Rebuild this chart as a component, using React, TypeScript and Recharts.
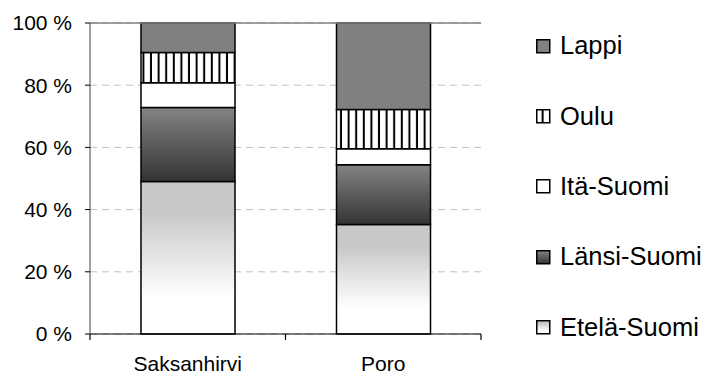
import { BarChart, Bar, XAxis, YAxis, CartesianGrid, Legend, ReferenceLine } from "recharts"

// categories and series values (percent shares)
const categories = ["Saksanhirvi", "Poro"]
const etelaSuomi = [49.0, 35.2]
const lansiSuomi = [23.8, 19.2]
const itaSuomi = [8.0, 5.2]
const oulu = [9.7, 12.6]
const lappi = [9.5, 27.8]
const yTicks = [0, 20, 40, 60, 80, 100]

// series in stacking order, bottom first
const seriesNames = ["Etelä-Suomi", "Länsi-Suomi", "Itä-Suomi", "Oulu", "Lappi"]
const seriesKeys = ["etela", "lansi", "ita", "oulu", "lappi"]
const seriesFills = ["url(#gEtela)", "url(#gLansi)", "#ffffff", "url(#pOulu)", "#808080"]

const data = categories.map((name, i) => ({
    name,
    etela: etelaSuomi[i],
    lansi: lansiSuomi[i],
    ita: itaSuomi[i],
    oulu: oulu[i],
    lappi: lappi[i],
}))

const FONT = "'Liberation Sans', Arial, sans-serif"

// x tick: label plus tick marks at the category edges
function CategoryTick(props: any) {
    const { x, y, payload, index, visibleTicksCount } = props
    const half = payload?.offset || 97.75
    const y0 = y - 8
    return (
        <g>
            <line x1={x - half} y1={y0} x2={x - half} y2={y0 + 6} stroke="#000" strokeWidth={1.2} />
            {index === visibleTicksCount - 1 && (
                <line x1={x + half} y1={y0} x2={x + half} y2={y0 + 6} stroke="#000" strokeWidth={1.2} />
            )}
            <text x={x} y={y + 29} textAnchor="middle" fontSize={21} fontFamily={FONT} fill="#000">
                {payload.value}
            </text>
        </g>
    )
}

function LegendContent() {
    const items = seriesNames.map((n, i) => ({ name: n, fill: seriesFills[i] })).reverse()
    return (
        <div style={{ fontFamily: FONT, fontSize: 25.5, color: "#000", lineHeight: 1 }}>
            {items.map((it) => (
                <div key={it.name} style={{ height: 70.3, display: "flex", alignItems: "center" }}>
                    <svg width={15} height={15} style={{ marginRight: 9 }}>
                        <rect x={0.75} y={0.75} width={13} height={13} fill={it.fill} stroke="#000" strokeWidth={1.5} />
                    </svg>
                    <span>{it.name}</span>
                </div>
            ))}
        </div>
    )
}

export default function App() {
    return (
        <div style={{ position: "absolute", left: 0, top: 0, width: 706, height: 374, background: "#fff" }}>
            <BarChart
                width={706}
                height={374}
                data={data}
                margin={{ top: 23, right: 225, bottom: 0, left: 0 }}
                barSize={94}
            >
                <defs>
                    <linearGradient id="gEtela" x1="0" y1="0" x2="0" y2="1">
                        <stop offset="0.2" stopColor="#c8c8c8" />
                        <stop offset="0.76" stopColor="#ffffff" />
                    </linearGradient>
                    <linearGradient id="gLansi" x1="0" y1="0" x2="0" y2="1">
                        <stop offset="0.05" stopColor="#808080" />
                        <stop offset="1" stopColor="#333333" />
                    </linearGradient>
                    <pattern id="pOulu" patternUnits="userSpaceOnUse" width={7.6} height={8}>
                        <rect width={7.6} height={8} fill="#fff" />
                        <rect x={5.6} width={2} height={8} fill="#000" />
                    </pattern>
                </defs>
                <CartesianGrid horizontal vertical={false} stroke="#c0c0c0" strokeDasharray="7 5" />
                <ReferenceLine y={100} stroke="#808080" strokeWidth={1.5} />
                <XAxis
                    dataKey="name"
                    height={40}
                    axisLine={{ stroke: "#000" }}
                    tickLine={false}
                    tick={<CategoryTick />}
                    interval={0}
                />
                <YAxis
                    width={90}
                    domain={[0, 100]}
                    ticks={yTicks}
                    tickFormatter={(v: number) => `${v} %`}
                    axisLine={{ stroke: "#404040" }}
                    tickLine={{ stroke: "#000" }}
                    tickSize={5}
                    tickMargin={13}
                    tick={{ fontSize: 21, fontFamily: FONT, fill: "#000" }}
                />
                <YAxis yAxisId="r" orientation="right" width={0} tick={false} tickLine={false} axisLine={{ stroke: "#808080", strokeWidth: 1.5 }} />
                <Legend
                    layout="horizontal"
                    align="center"
                    verticalAlign="middle"
                    content={<LegendContent />}
                    wrapperStyle={{ position: "absolute", left: 536, top: 11, width: 170, height: 352 }}
                />
                {seriesKeys.map((k, i) => (
                    <Bar
                        key={k}
                        dataKey={k}
                        name={seriesNames[i]}
                        stackId="a"
                        fill={seriesFills[i]}
                        stroke="#000"
                        strokeWidth={1.5}
                        isAnimationActive={false}
                    />
                ))}
            </BarChart>
        </div>
    )
}
